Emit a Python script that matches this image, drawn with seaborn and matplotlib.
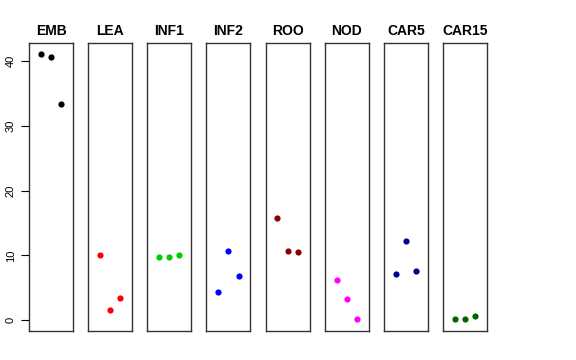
import numpy as np
import seaborn as sns
import matplotlib.pyplot as plt
import pandas as pd

# sample groups and their colours
groups = ['EMB', 'LEA', 'INF1', 'INF2', 'ROO', 'NOD', 'CAR5', 'CAR15']
colors = ['black', 'red', '#00CD00', 'blue', '#8B0000', 'magenta', '#00008B', '#006400']
replicate = [1, 2, 3]

# values (3 replicates per group)
emb = [41.1, 40.6, 33.3]
lea = [10.1, 1.6, 3.4]
inf1 = [9.7, 9.7, 10.1]
inf2 = [4.4, 10.7, 6.9]
roo = [15.8, 10.7, 10.6]
nod = [6.2, 3.3, 0.2]
car5 = [7.1, 12.3, 7.6]
car15 = [0.15, 0.15, 0.65]

values = [emb, lea, inf1, inf2, roo, nod, car5, car15]

rows = []
for g, v in zip(groups, values):
    for r, y in zip(replicate, v):
        rows.append({'group': g, 'rep': r, 'value': y})
df = pd.DataFrame(rows)

sns.set_style('white')
plt.rcParams['font.family'] = ['Liberation Sans', 'DejaVu Sans']
plt.rcParams['text.color'] = 'black'
plt.rcParams['ytick.color'] = 'black'
plt.rcParams['ytick.labelcolor'] = 'black'

fig, axes = plt.subplots(1, 8, figsize=(5.76, 3.6), dpi=100, sharey=True)
fig.subplots_adjust(left=29/576, right=487/576, bottom=1-331/360, top=1-43/360, wspace=0.344)

ymin, ymax = 0, 41.1
pad = (ymax - ymin) * 0.04

for ax, g, c in zip(axes, groups, colors):
    sub = df[df['group'] == g]
    sns.scatterplot(data=sub, x='rep', y='value', color=c, s=20, linewidth=0, ax=ax)
    ax.set_xlim(-0.16, 4.16)
    ax.set_ylim(ymin - pad, ymax + pad)
    ax.set_title(g, fontsize=10, fontweight='bold', pad=6, color='black')
    ax.set_xticks([])
    ax.set_xlabel('')
    ax.set_ylabel('')
    for sp in ax.spines.values():
        sp.set_color('#333333')
        sp.set_linewidth(1)
    ax.tick_params(left=False, labelleft=False)

axes[0].set_yticks([0, 10, 20, 30, 40])
axes[0].tick_params(axis='y', left=True, labelleft=True, length=5.5, width=0.8,
                    labelsize=8, pad=4, color='black', labelcolor='black')
for lab in axes[0].get_yticklabels():
    lab.set_rotation(90)
    lab.set_va('center')

plt.savefig('out.png', dpi=100)
